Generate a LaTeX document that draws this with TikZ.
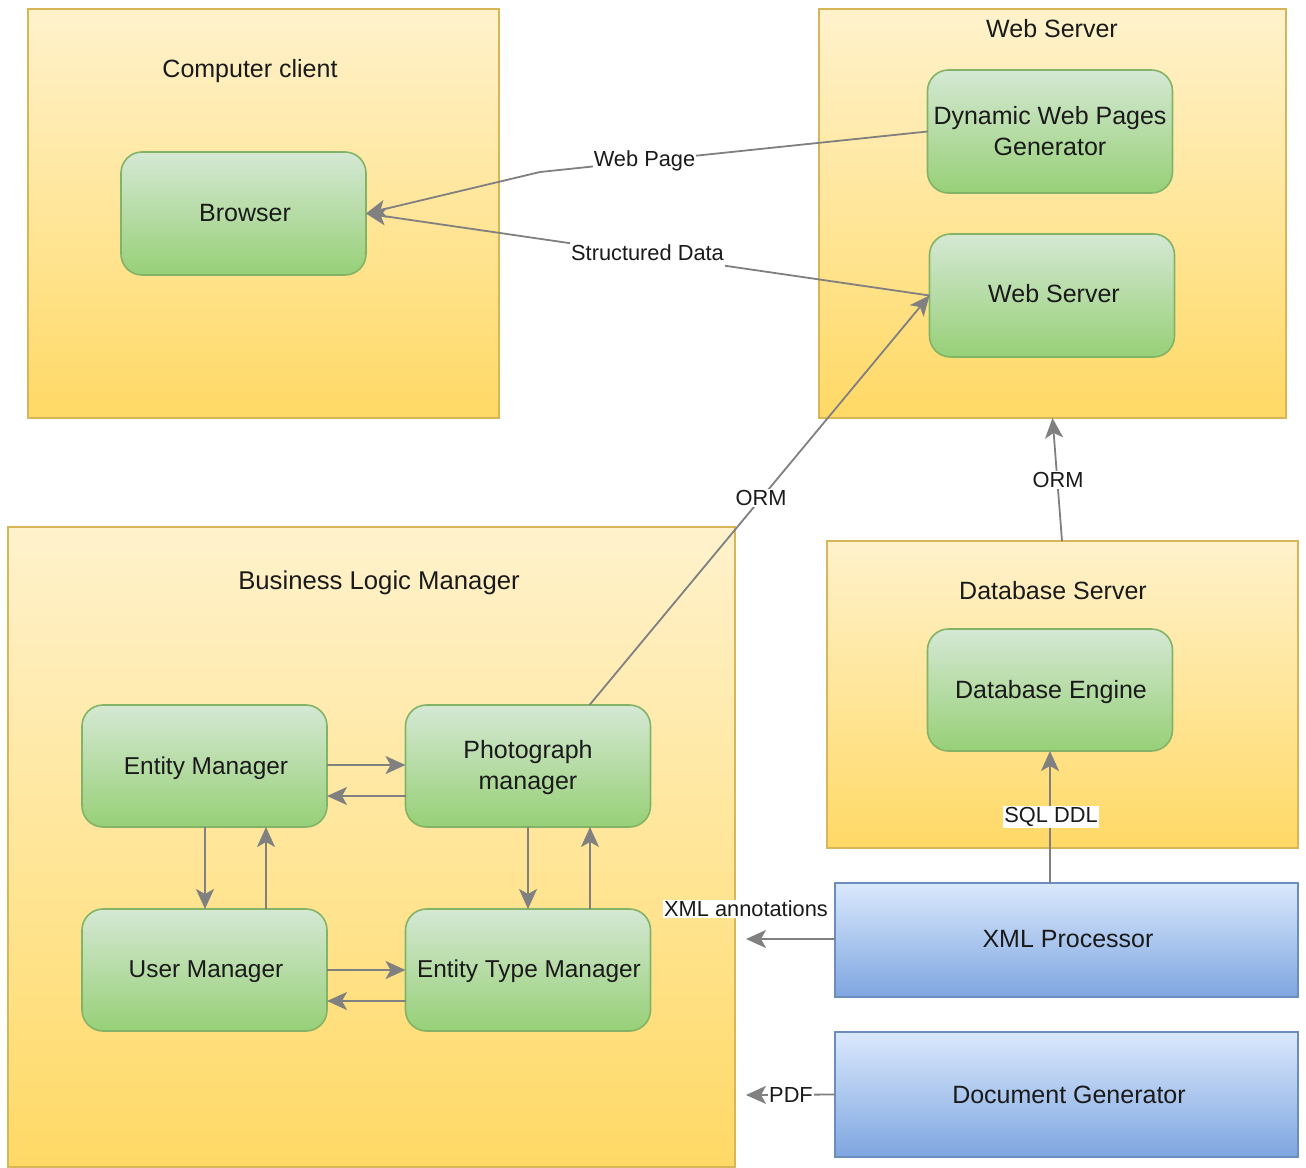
\documentclass[tikz,border=0pt]{standalone}
\usepackage{fontspec}
\setmainfont{Liberation Sans}
\usetikzlibrary{arrows.meta}
\definecolor{txt}{HTML}{1A1A1A}
\definecolor{conn}{HTML}{808080}
\tikzset{
  every node/.style={font=\fontsize{25}{31}\selectfont,text=txt,align=center,inner sep=0pt,outer sep=0pt},
  container/.style={draw={rgb,255:red,214;green,182;blue,86},line width=1.6pt,top color={rgb,255:red,255;green,242;blue,204},bottom color={rgb,255:red,255;green,217;blue,102},rectangle},
  greenbox/.style={draw={rgb,255:red,130;green,179;blue,102},line width=1.6pt,top color={rgb,255:red,213;green,232;blue,212},bottom color={rgb,255:red,151;green,208;blue,119},rounded corners=21pt,minimum width=245pt,minimum height=122pt},
  bluebox/.style={draw={rgb,255:red,108;green,142;blue,191},line width=1.6pt,top color={rgb,255:red,218;green,232;blue,252},bottom color={rgb,255:red,126;green,166;blue,224},rectangle},
  link/.style={draw=conn,line width=1.8pt,-{Stealth[length=20pt,width=18pt,inset=5pt]}},
  edgelabel/.style={fill=white,inner sep=1pt,font=\fontsize{21.8}{27}\selectfont},
  wide/.style={font=\fontsize{25.7}{31}\selectfont},
  narrow/.style={font=\fontsize{24.4}{31}\selectfont},
}
\begin{document}
\begin{tikzpicture}[x=1pt,y=-1pt]
\useasboundingbox[fill=white] (0,0) rectangle (1306,1167);
% containers
\node[container,minimum width=471pt,minimum height=409pt] (client) at (263.5,213.5) {};
\node[container,minimum width=467pt,minimum height=409pt] (webc) at (1052.5,213.5) {};
\node[container,minimum width=727pt,minimum height=640pt] (biz) at (371.5,847) {};
\node[container,minimum width=471pt,minimum height=307pt] (dbs) at (1062.5,694.5) {};
% titles
\node (t1) at (250,71) {Computer client};
\node (t2) at (1052,29) {Web Server};
\node[wide] (t3) at (379,583) {Business Logic Manager};
\node (t4) at (1053,591) {Database Server};
% green boxes
\node[greenbox,minimum height=123pt] (browser) at (243.5,213.5) {};
\node[greenbox,minimum height=123pt] (dyn) at (1050,131.5) {};
\node[greenbox,minimum height=123pt] (ws) at (1052,295.5) {};
\node[greenbox] (entity) at (204.5,766) {};
\node[greenbox] (photo) at (528,766) {};
\node[greenbox] (user) at (204.5,970) {};
\node[greenbox] (etype) at (528,970) {};
\node[greenbox] (engine) at (1050,690) {};
% blue boxes
\node[bluebox,minimum width=463pt,minimum height=114pt] (xml) at (1066.5,940) {};
\node[bluebox,minimum width=463pt,minimum height=125pt] (doc) at (1066.5,1094.5) {};
% box texts
\node at (245,213) {Browser};
\node at (1050,131) {Dynamic Web Pages\\Generator};
\node at (1054,294) {Web Server};
\node[narrow] at (206,768) {Entity Manager};
\node at (528,768) {Photograph\\manager};
\node[narrow] at (206,972) {User Manager};
\node[narrow] at (529,971) {Entity Type Manager};
\node at (1051,692) {Database Engine};
\node at (1068,939) {XML Processor};
\node at (1069,1095) {Document Generator};
% free ends
\coordinate (xmlend) at (746,939);
\coordinate (pdfend) at (746,1095);
\coordinate (wpbend) at (540,172);
% connectors
\draw[link] (dyn.west) -- (wpbend) -- (browser.east);
\draw[link] (ws.west) -- (browser.east);
\draw[link] ([xshift=61.5pt]photo.north) -- (ws.west);
\draw[link] ([xshift=-0.5pt]dbs.north) -- (webc.south);
\draw[link] ([xshift=-16.5pt]xml.north) -- (engine.south);
\draw[link] ([yshift=1pt]xml.west) -- (xmlend);
\draw[link] (doc.west) -- (pdfend);
\draw[link] ([yshift=1pt]entity.east) -- ([yshift=1pt]photo.west);
\draw[link] ([yshift=-30pt]photo.west) -- ([yshift=-30pt]entity.east);
\draw[link] (user.east) -- (etype.west);
\draw[link] ([yshift=-31pt]etype.west) -- ([yshift=-31pt]user.east);
\draw[link] ([xshift=0.5pt]entity.south) -- ([xshift=0.5pt]user.north);
\draw[link] ([xshift=61.5pt]user.north) -- ([xshift=61.5pt]entity.south);
\draw[link] (photo.south) -- (etype.north);
\draw[link] ([xshift=62pt]etype.north) -- ([xshift=62pt]photo.south);
% labels
\node[edgelabel] (l1) at (644.5,161) {Web Page};
\node[edgelabel,minimum height=31pt] (l2) at (647.5,253) {Structured Data};
\node[edgelabel] (l3) at (761,498) {ORM};
\node[edgelabel] (l4) at (1058,480) {ORM};
\node[edgelabel] (l5) at (1051,817) {SQL DDL};
\node[edgelabel] (l6) at (746,909) {XML annotations};
\node[edgelabel] (l7) at (791,1095) {PDF};
\end{tikzpicture}
\end{document}
